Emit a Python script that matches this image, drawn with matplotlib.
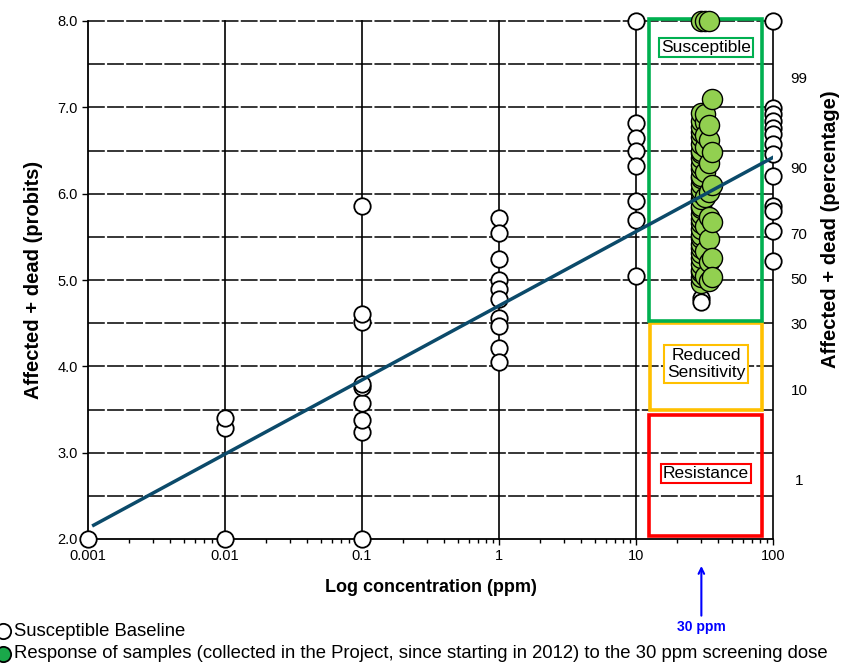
import matplotlib
matplotlib.use("Agg")
import matplotlib.pyplot as plt
from matplotlib.lines import Line2D
from matplotlib.patches import Rectangle
from statistics import NormalDist

plt.rcParams['font.family'] = ['Liberation Sans', 'DejaVu Sans']

# susceptible baseline (white circles): concentration ppm, probit
base_x = [0.001,
          0.01, 0.01, 0.01,
          0.1, 0.1, 0.1, 0.1, 0.1, 0.1, 0.1, 0.1, 0.1,
          1, 1, 1, 1, 1, 1, 1, 1, 1, 1,
          10, 10, 10, 10, 10, 10, 10, 10,
          30, 30,
          100, 100, 100, 100, 100, 100, 100, 100, 100, 100, 100, 100, 100]
base_y = [2.0,
          2.0, 3.28, 3.40,
          2.0, 3.24, 3.38, 3.57, 3.76, 3.79, 4.51, 4.61, 5.86,
          5.72, 5.55, 5.24, 5.00, 4.90, 4.78, 4.56, 4.47, 4.21, 4.05,
          8.0, 6.82, 6.65, 6.49, 6.32, 5.92, 5.69, 5.05,
          4.79, 4.74,
          8.0, 6.99, 6.92, 6.84, 6.76, 6.69, 6.57, 6.46, 6.20, 5.86, 5.80, 5.57, 5.22]

# samples at the 30 ppm screening dose (green circles)
green_x = [30, 32, 34,
           30, 30, 30, 30, 30, 30, 30, 30, 30, 30, 30, 30, 30, 30, 30, 30, 30, 30,
           30, 30, 30, 30, 30, 30, 30, 30, 30, 30, 30, 30, 30, 30, 30, 30,
           32, 32, 32, 32, 32, 32, 32, 32, 32,
           34, 34, 34, 34, 34, 34, 34, 34,
           36, 36, 36, 36, 36, 36]
green_y = [8.0, 8.0, 8.0,
           4.97, 5.03, 5.09, 5.12, 5.19, 5.26, 5.31, 5.37, 5.42, 5.49, 5.52, 5.59, 5.66, 5.71, 5.77, 5.83, 5.86, 5.94,
           6.01, 6.04, 6.11, 6.18, 6.21, 6.29, 6.33, 6.41, 6.47, 6.50, 6.58, 6.66, 6.71, 6.77, 6.84, 6.93,
           5.05, 5.34, 5.62, 5.96, 6.25, 6.54, 6.83, 6.92, 6.68,
           4.99, 5.21, 5.47, 5.73, 6.02, 6.36, 6.62, 6.79,
           5.25, 5.67, 6.10, 6.48, 7.10, 5.03]

# probit regression line
line_x = [0.0011, 100]
line_y = [2.16, 6.42]

# right-hand percentage labels
pct_labels = [99, 90, 70, 50, 30, 10, 1]

x_ticks = [0.001, 0.01, 0.1, 1, 10, 100]
x_ticklabels = ['0.001', '0.01', '0.1', '1', '10', '100']
y_ticks = [2, 3, 4, 5, 6, 7, 8]

legend_labels = ['Susceptible Baseline',
                 'Response of samples (collected in the Project, since starting in 2012) to the 30 ppm screening dose']

fig = plt.figure(figsize=(8.43, 6.64), dpi=100)
ax = fig.add_axes([88 / 843, 125 / 664, 685 / 843, 518 / 664])
ax.set_xscale('log')
ax.set_xlim(0.001, 100)
ax.set_ylim(2, 8)

# grid
for yv in [2.5, 3.0, 3.5, 4.0, 4.5, 5.0, 5.5, 6.0, 6.5, 7.0, 7.5, 8.0]:
    ax.axhline(yv, color='black', lw=1.1, dashes=(11, 1.5), zorder=1, clip_on=False)
for xv in [0.01, 0.1, 1, 10, 100]:
    ax.axvline(xv, color='black', lw=1.2, zorder=1, clip_on=False)

for s in ['top', 'right']:
    ax.spines[s].set_visible(False)
ax.spines['left'].set_linewidth(1.3)
ax.spines['bottom'].set_linewidth(1.3)

ax.set_xticks(x_ticks)
ax.set_xticklabels(x_ticklabels)
ax.set_yticks(y_ticks)
ax.set_yticklabels([f'{v:.1f}' for v in y_ticks])
ax.tick_params(axis='both', labelsize=10.5, length=4, width=1, direction='out')
ax.tick_params(axis='x', which='minor', length=3, width=1, direction='out')

# category boxes
ax.add_patch(Rectangle((12.4, 3.44), 83 - 12.4, 2.03 - 3.44, fill=False,
                       ec='#ff0000', lw=2.6, zorder=2))
ax.add_patch(Rectangle((12.6, 3.49), 82.5 - 12.6, 4.50 - 3.49, fill=False,
                       ec='#ffc000', lw=2.6, zorder=2))
ax.add_patch(Rectangle((12.4, 4.53), 83 - 12.4, 8.02 - 4.53, fill=False,
                       ec='#00b050', lw=2.6, zorder=2, clip_on=False))

ax.text(32.5, 7.69, 'Susceptible', ha='center', va='center', fontsize=12.5, zorder=6,
        bbox=dict(boxstyle='square,pad=0.12', fc='white', ec='#00b050', lw=1.5))
ax.text(32.5, 4.03, 'Reduced\nSensitivity', ha='center', va='center', fontsize=12.5, zorder=6,
        linespacing=1.2,
        bbox=dict(boxstyle='square,pad=0.15', fc='white', ec='#ffc000', lw=1.5))
ax.text(32.5, 2.76, 'Resistance', ha='center', va='center', fontsize=12.5, zorder=6,
        bbox=dict(boxstyle='square,pad=0.12', fc='white', ec='#ff0000', lw=1.5))

# points
ax.scatter(base_x, base_y, s=140, facecolor='white', edgecolor='black', lw=1.3,
           zorder=4, clip_on=False)
ax.scatter(green_x, green_y, s=210, facecolor='#92d050', edgecolor='black', lw=1.0,
           zorder=5, clip_on=False)

ax.plot(line_x, line_y, color='#0b4a6a', lw=2.5, zorder=7)

# percentage axis on the right
for p in pct_labels:
    ax.text(1.038, 5 + NormalDist().inv_cdf(p / 100), str(p), fontsize=11,
            ha='center', va='center', transform=ax.get_yaxis_transform())

ax.set_xlabel('Log concentration (ppm)', fontsize=13, fontweight='bold', labelpad=11)
ax.set_ylabel('Affected + dead (probits)', fontsize=14.5, fontweight='bold', labelpad=10)
fig.text(0.985, 0.655, 'Affected + dead (percentage)', fontsize=14.5, fontweight='bold',
         rotation=90, ha='center', va='center')

# 30 ppm arrow
ax.annotate('', xy=(30, 1.72), xytext=(30, 1.08), annotation_clip=False,
            arrowprops=dict(arrowstyle='->', color='#0000ff', lw=1.5))
ax.text(30, 0.98, '30 ppm', color='#0000ff', fontsize=10, fontweight='bold',
        ha='center', va='center', clip_on=False)

# legend drawn below the chart, markers partly off the left edge
leg_colors = ['white', '#1aa84a']
leg_y = [1 - 631 / 664, 1 - 654 / 664]
for lab, col, yy in zip(legend_labels, leg_colors, leg_y):
    fig.add_artist(Line2D([3 / 843], [yy], ls='none', marker='o', ms=11,
                          mfc=col, mec='black', mew=1.3))
    fig.text(14 / 843, yy, lab, fontsize=13.3, ha='left', va='center')

fig.savefig('out.png', dpi=100)
